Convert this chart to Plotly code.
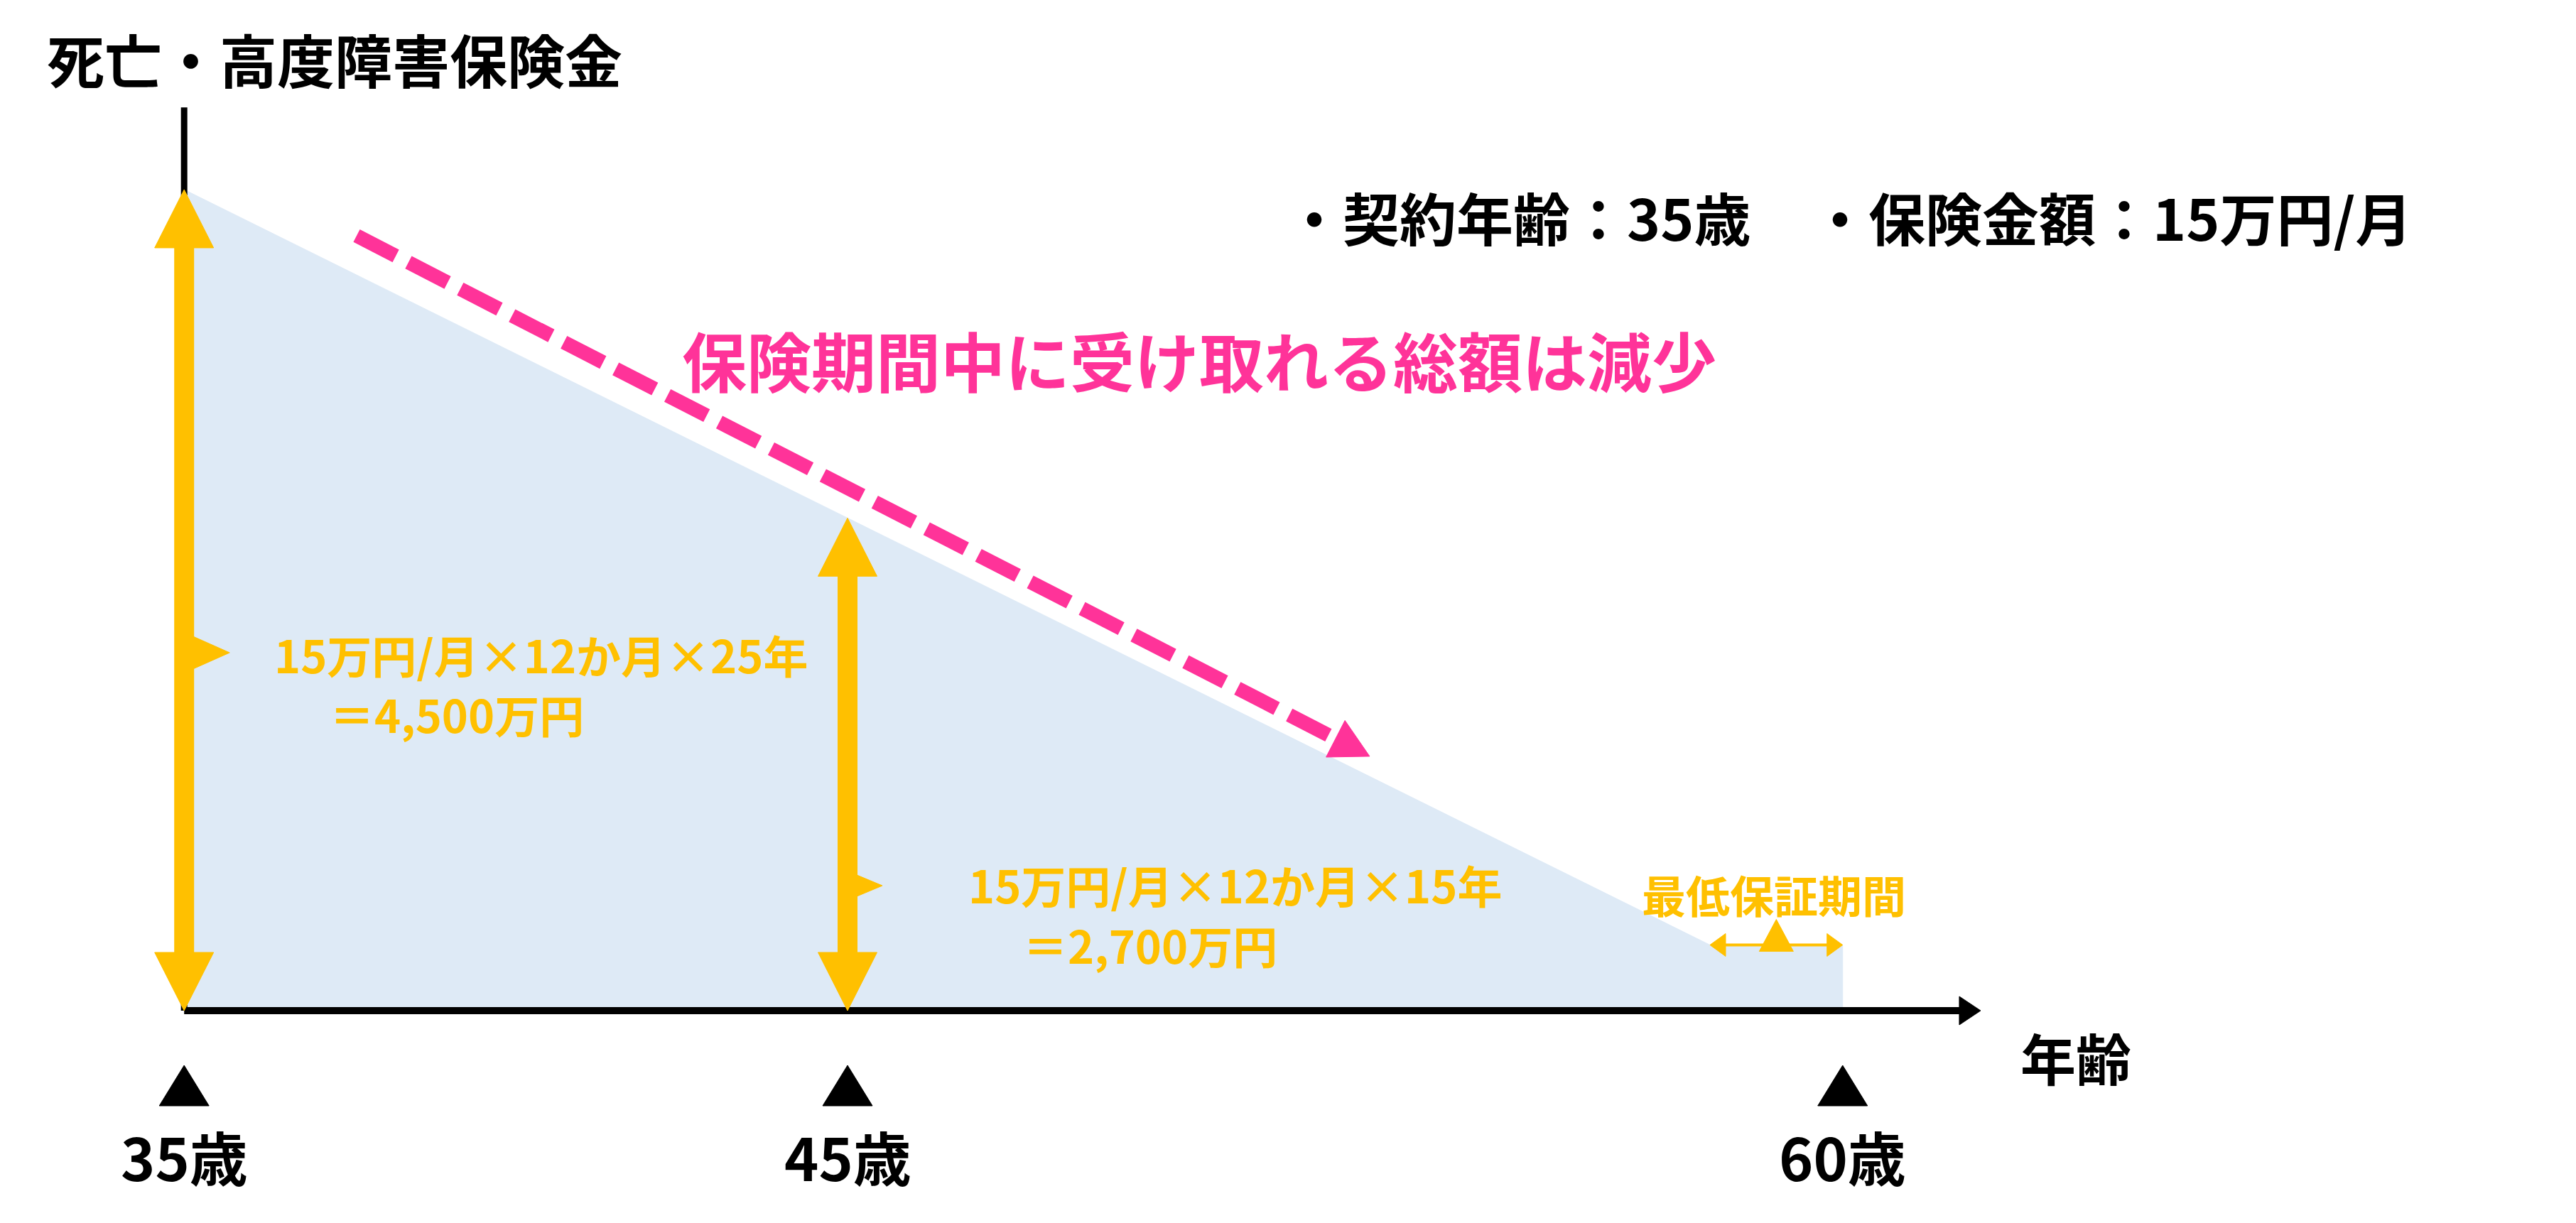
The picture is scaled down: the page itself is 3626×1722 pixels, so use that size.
import math
import plotly.graph_objects as go

# 受取総額（万円）の推移：保険金額15万円/月、60歳満了、最低保証2年
area_ages = [35, 58, 60, 60, 35]
area_values = [4500, 360, 360, 0, 0]

arrow_ages = [35, 45]
arrow_values = [4500, 2700]
formula_texts = ["15万円/月×12か月×25年", "15万円/月×12か月×15年"]
total_texts = ["＝4,500万円", "＝2,700万円"]

tick_ages = [35, 45, 60]
tick_labels = ["35歳", "45歳", "60歳"]

guarantee_ages = [58, 60]
guarantee_value = 360

# canvas / scales
W, H = 3626, 1722
X0, X1 = 32.31, 71.14
Y0, Y1 = -1195, 5508
PPX = W / (X1 - X0)
PPY = H / (Y1 - Y0)

YELLOW = "#FFC000"
PINK = "#FF3399"
BLUE = "#DEEAF6"
FONT = "Noto Sans CJK JP"

fig = go.Figure()


def poly(xs, ys, color):
    fig.add_trace(go.Scatter(x=xs, y=ys, mode="lines", fill="toself", fillcolor=color,
                             line=dict(width=1, color=color), hoverinfo="skip"))


def line(xs, ys, color, width, dash=None):
    fig.add_trace(go.Scatter(x=xs, y=ys, mode="lines", hoverinfo="skip",
                             line=dict(color=color, width=width, dash=dash)))


def head(x, y, ux, uy, length, width, color):
    # tip at (x, y); (ux, uy) direction in screen px, up positive
    nx, ny = -uy, ux
    bx, by = -ux * length, -uy * length
    xs = [0, bx + nx * width / 2, bx - nx * width / 2, 0]
    ys = [0, by + ny * width / 2, by - ny * width / 2, 0]
    poly([x + v / PPX for v in xs], [y + v / PPY for v in ys], color)


# shaded area
poly(area_ages, area_values, BLUE)

# y axis line
line([35, 35], [0, 4950], "black", 9)

# x axis with arrow
AXIS_END = 62.08
line([35, AXIS_END - 24 / PPX], [0, 0], "black", 10)
head(AXIS_END, 0, 1, 0, 30, 40, "black")

# yellow double arrows with callout notch
HL, HW, LW = 82, 83, 28
notch_y = [1962, 685]
notch_size = [(57, 50), (41, 35)]
for a, v, ny, (nh, npr) in zip(arrow_ages, arrow_values, notch_y, notch_size):
    poly([a, a + (LW / 2 + npr) / PPX, a, a],
         [ny + nh / 2 / PPY, ny, ny - nh / 2 / PPY, ny + nh / 2 / PPY], YELLOW)
    line([a, a], [HL / PPY - 2, v - HL / PPY + 2], YELLOW, LW)
    head(a, v, 0, 1, HL, HW, YELLOW)
    head(a, 0, 0, -1, HL, HW, YELLOW)

# minimum guarantee arrow
g0, g1 = guarantee_ages
line([g0 + 20 / PPX, g1 - 20 / PPX], [guarantee_value] * 2, YELLOW, 4)
head(g0, guarantee_value, -1, 0, 22, 32, YELLOW)
head(g1, guarantee_value, 1, 0, 22, 32, YELLOW)
gm = (g0 + g1) / 2
poly([gm - 24 / PPX, gm, gm + 24 / PPX, gm - 24 / PPX],
     [guarantee_value - 9 / PPY, guarantee_value + 36 / PPY, guarantee_value - 9 / PPY,
      guarantee_value - 9 / PPY], YELLOW)

# pink dashed trend arrow
PINK_FROM = (37.60, 4247)
PINK_TO = (52.87, 1394)
dxp = (PINK_TO[0] - PINK_FROM[0]) * PPX
dyp = (PINK_TO[1] - PINK_FROM[1]) * PPY
n = math.hypot(dxp, dyp)
ux, uy = dxp / n, dyp / n
PH = 54
line([PINK_FROM[0], PINK_TO[0] - ux * PH / PPX], [PINK_FROM[1], PINK_TO[1] - uy * PH / PPY],
     PINK, 20, dash="62px,20px")
head(PINK_TO[0], PINK_TO[1], ux, uy, PH, 58, PINK)

# black markers under the axis
for a in tick_ages:
    poly([a - 35 / PPX, a, a + 35 / PPX, a - 35 / PPX],
         [-134 / PPY, -77 / PPY, -134 / PPY, -134 / PPY], "black")

annotations = []
for a, t in zip(tick_ages, tick_labels):
    annotations.append(dict(x=a, y=0, xref="x", yref="y", yshift=-204, text=f"<b>{t}</b>",
                            showarrow=False, font=dict(family=FONT, size=82, color="black")))


def note(px, py, text, size, color, xanchor="left"):
    annotations.append(dict(x=px / W, y=1 - py / H, xref="paper", yref="paper", text=text,
                            showarrow=False, xanchor=xanchor, yanchor="middle", align="left",
                            font=dict(family=FONT, size=size, color=color)))


note(56, 74, "<b>死亡・高度障害保険金</b>", 81, "black")
note(2914, 1480, "<b>年齢</b>", 78, "black", xanchor="center")
note(1800, 296, "<b>・契約年齢：35歳</b>", 80, "black")
note(2540, 296, "<b>・保険金額：15万円/月</b>", 80, "black")
note(1680, 497, "<b>保険期間中に受け取れる総額は減少</b>", 91, PINK, xanchor="center")
note(2489, 1251, "<b>最低保証期間</b>", 62, YELLOW, xanchor="center")

# calculation labels
formula_pos = [(376, 912), (1353, 1236)]
total_pos = [(454, 996), (1430, 1321)]
for f, t, fp, tp in zip(formula_texts, total_texts, formula_pos, total_pos):
    note(fp[0], fp[1], f"<b>{f}</b>", 63, YELLOW)
    note(tp[0], tp[1], f"<b>{t}</b>", 63, YELLOW)

fig.update_layout(
    width=W, height=H, showlegend=False,
    margin=dict(l=0, r=0, t=0, b=0),
    paper_bgcolor="white", plot_bgcolor="white",
    xaxis=dict(range=[X0, X1], visible=False, fixedrange=True),
    yaxis=dict(range=[Y0, Y1], visible=False, fixedrange=True),
    annotations=annotations,
)

fig.write_html("out.html")
